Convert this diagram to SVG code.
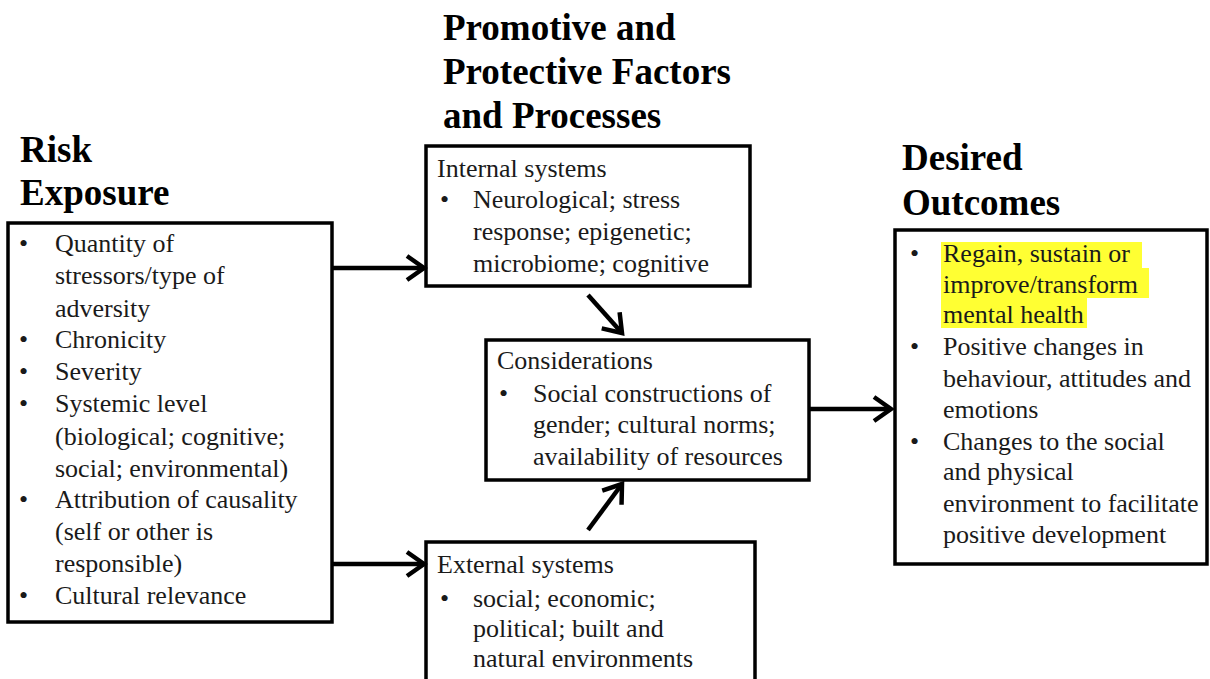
<svg xmlns="http://www.w3.org/2000/svg" width="1210" height="679" viewBox="0 0 1210 679">
<defs>
<style>
.title{font-family:'Liberation Serif',Tinos,'Times New Roman','DejaVu Serif',serif;font-weight:bold;font-size:37px;fill:#000}
.t{font-family:'Liberation Serif',Tinos,'Times New Roman','DejaVu Serif',serif;font-size:26px;fill:#1a1a1a}
.box{fill:#fff;stroke:#000;stroke-width:3.5}
.conn{stroke:#000;stroke-width:4.5;fill:none}
.hl{fill:#ffff33}
</style>
<marker id="arr" viewBox="0 0 24 28" refX="20" refY="14" markerWidth="24" markerHeight="28" markerUnits="userSpaceOnUse" orient="auto">
<path d="M3,2 L20,14 L3,26" fill="none" stroke="#000" stroke-width="4.5" stroke-linejoin="miter"/>
</marker>
</defs>
<rect width="1210" height="679" fill="#fff"/>

<g id="risk-exposure">
<text class="title" x="20" y="162">Risk</text>
<text class="title" x="20" y="205">Exposure</text>
<rect class="box" x="8" y="223" width="324" height="399"/>
<g class="t" xml:space="preserve">
<text x="19" y="252">•</text><text x="55" y="252">Quantity of</text>
<text x="55" y="284">stressors/type  of</text>
<text x="55" y="317">adversity</text>
<text x="19" y="348">•</text><text x="55" y="348">Chronicity</text>
<text x="19" y="380">•</text><text x="55" y="380">Severity</text>
<text x="19" y="412">•</text><text x="55" y="412">Systemic  level</text>
<text x="55" y="445">(biological; cognitive;</text>
<text x="55" y="477">social; environmental)</text>
<text x="19" y="508">•</text><text x="55" y="508">Attribution of causality</text>
<text x="55" y="540">(self or other is</text>
<text x="55" y="572">responsible)</text>
<text x="19" y="604">•</text><text x="55" y="604">Cultural relevance</text>
</g>
</g>

<g id="promotive-title">
<text class="title" x="443" y="40">Promotive and</text>
<text class="title" x="443" y="84">Protective Factors</text>
<text class="title" x="443" y="128">and Processes</text>
</g>

<g id="internal-systems">
<rect class="box" x="426" y="146" width="324" height="140"/>
<g class="t" xml:space="preserve">
<text x="437" y="177">Internal  systems</text>
<text x="440" y="208">•</text><text x="473" y="208">Neurological;  stress</text>
<text x="473" y="240">response;  epigenetic;</text>
<text x="473" y="272">microbiome;  cognitive</text>
</g>
</g>

<g id="considerations">
<rect class="box" x="486" y="340" width="323" height="140"/>
<g class="t" xml:space="preserve">
<text x="497" y="369">Considerations</text>
<text x="499" y="402">•</text><text x="533" y="402">Social  constructions  of</text>
<text x="533" y="433">gender;  cultural  norms;</text>
<text x="533" y="465">availability of resources</text>
</g>
</g>

<g id="external-systems">
<rect class="box" x="426" y="542" width="329" height="150"/>
<g class="t">
<text x="437" y="573">External systems</text>
<text x="440" y="607">•</text><text x="473" y="607">social; economic;</text>
<text x="473" y="637">political; built and</text>
<text x="473" y="667">natural environments</text>
</g>
</g>

<g id="desired-outcomes">
<text class="title" x="902" y="170">Desired</text>
<text class="title" x="902" y="215">Outcomes</text>
<rect class="box" x="895" y="230" width="312" height="334"/>
<rect class="hl" x="941" y="242" width="201" height="26"/>
<rect class="hl" x="941" y="268" width="208" height="30"/>
<rect class="hl" x="941" y="298" width="146" height="30"/>
<g class="t" xml:space="preserve">
<text x="910" y="262">•</text><text x="943" y="262">Regain, sustain or</text>
<text x="943" y="293">improve/transform</text>
<text x="943" y="323">mental health</text>
<text x="910" y="355">•</text><text x="943" y="355">Positive  changes  in</text>
<text x="943" y="387">behaviour, attitudes and</text>
<text x="943" y="418">emotions</text>
<text x="910" y="450">•</text><text x="943" y="450">Changes to the social</text>
<text x="943" y="480">and physical</text>
<text x="943" y="512">environment  to facilitate</text>
<text x="943" y="543">positive  development</text>
</g>
</g>

<g id="connectors">
<line class="conn" x1="332" y1="268" x2="424" y2="268" marker-end="url(#arr)"/>
<line class="conn" x1="332" y1="564" x2="424" y2="564" marker-end="url(#arr)"/>
<line class="conn" x1="588" y1="295" x2="622" y2="333" marker-end="url(#arr)"/>
<line class="conn" x1="588" y1="530" x2="622" y2="484" marker-end="url(#arr)"/>
<line class="conn" x1="809" y1="409" x2="891" y2="409" marker-end="url(#arr)"/>
</g>
</svg>
